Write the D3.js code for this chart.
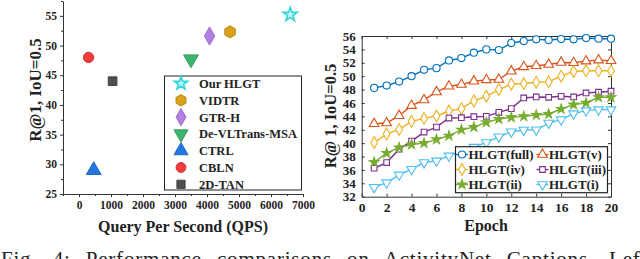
<!DOCTYPE html>
<html>
<head>
<meta charset="utf-8">
<script src="https://cdn.jsdelivr.net/npm/d3@7"></script>
<style>
  body { margin: 0; background: #fff; }
  svg { display: block; }
  svg text { font-family: "Liberation Serif", "Times New Roman", serif; font-weight: bold; }
</style>
</head>
<body>
<svg id="fig" width="640" height="259"></svg>
<script>
// left panel: methods vs QPS
var methods = ["Our HLGT", "VIDTR", "GTR-H", "De-VLTrans-MSA", "CTRL", "CBLN", "2D-TAN"];
var qps = [6600, 4720, 4080, 3500, 460, 300, 1050];
var recall = [55.2, 52.3, 51.6, 47.7, 29.0, 48.0, 44.0];
var methodColors = ["#2fd5d8", "#d9a11c", "#b47fe2", "#3cb46c", "#2477e0", "#f03c3c", "#4f4f4f"];
var methodShapes = [d3.symbolStar, "hex", d3.symbolDiamond, "down", d3.symbolTriangle, d3.symbolCircle, d3.symbolSquare];
var qpsTicks = [0, 1000, 2000, 3000, 4000, 5000, 6000, 7000];
var recallTicks = [25, 30, 35, 40, 45, 50, 55];

// right panel: ablation over epochs
var epochs = d3.range(1, 21);
var seriesNames = ["HLGT(full)", "HLGT(v)", "HLGT(iv)", "HLGT(iii)", "HLGT(ii)", "HLGT(i)"];
var full = [48.25, 48.6, 49.2, 50.0, 50.95, 51.2, 52.35, 52.7, 53.5, 54.0, 53.9, 54.95, 55.25, 55.5, 55.4, 55.55, 55.5, 55.7, 55.6, 55.6];
var v = [42.9, 43.0, 44.1, 45.6, 46.45, 47.65, 48.5, 48.75, 49.25, 49.45, 49.5, 50.75, 51.4, 51.55, 51.75, 52.05, 52.0, 52.25, 52.4, 52.3];
var iv = [40.1, 41.35, 42.05, 43.25, 43.7, 44.05, 44.8, 45.15, 46.3, 47.0, 48.0, 48.8, 48.9, 49.1, 49.15, 50.0, 50.7, 50.8, 50.8, 50.8];
var iii = [36.25, 37.1, 39.1, 40.3, 41.65, 42.4, 43.75, 43.8, 43.95, 44.0, 44.6, 45.15, 46.75, 46.9, 46.85, 47.0, 46.9, 47.5, 47.6, 47.75];
var ii = [37.15, 38.5, 39.35, 39.8, 40.0, 40.55, 41.1, 42.0, 42.4, 43.1, 43.6, 43.85, 44.0, 44.2, 44.35, 45.1, 45.75, 46.0, 46.85, 46.85];
var i1 = [33.4, 34.1, 35.25, 36.1, 37.1, 37.35, 38.1, 38.8, 39.4, 40.1, 40.95, 41.7, 41.95, 42.0, 43.0, 43.5, 44.4, 44.85, 45.0, 45.0];
var seriesValues = [full, v, iv, iii, ii, i1];
var seriesColors = ["#0072bd", "#d95319", "#edb120", "#7e2f8e", "#77ac30", "#4dbeee"];
var seriesShapes = [d3.symbolCircle, d3.symbolTriangle, d3.symbolDiamond, d3.symbolSquare, d3.symbolStar, "down"];
var epochTicks = d3.range(0, 21, 2);
var accTicks = d3.range(32, 57, 2);

var svg = d3.select("#fig");

function shapePath(shape, size) {
  if (shape === "down") {
    return d3.symbol(d3.symbolTriangle, size)();
  }
  if (shape === "hex") {
    var r = Math.sqrt(size / 2.6);
    var pts = d3.range(6).map(function(k) {
      var a = Math.PI / 6 + k * Math.PI / 3;
      return [r * Math.cos(a), r * Math.sin(a)];
    });
    return "M" + pts.join("L") + "Z";
  }
  return d3.symbol(shape, size)();
}
function shapeRot(shape) { return shape === "down" ? " rotate(180)" : ""; }
function plain(g) { g.attr("font-family", null).attr("font-size", null); }

// ---------- left scatter ----------
var x1 = d3.scaleLinear().domain([-500, 7000]).range([63, 303]);
var y1 = d3.scaleLinear().domain([25, 57.5]).range([194, 1]);
var leftSize = [60, 95, 95, 95, 95, 85, 75];

var gL = svg.append("g");
gL.append("g").attr("transform", "translate(0,194)")
  .call(d3.axisBottom(x1).tickValues(qpsTicks).tickFormat(d3.format("d")).tickSize(3).tickSizeOuter(0).tickPadding(4))
  .call(plain)
  .call(function(g) { g.selectAll("text").style("font-size", "11.5px").attr("fill", "#222"); });
gL.append("g").attr("transform", "translate(0,194)")
  .call(d3.axisBottom(x1).tickValues(d3.range(-500, 7000, 1000)).tickSize(2).tickFormat(""))
  .call(function(g) { g.select(".domain").remove(); });
gL.append("g").attr("transform", "translate(63,0)")
  .call(d3.axisLeft(y1).tickValues(recallTicks).tickSize(3).tickSizeOuter(0).tickPadding(3))
  .call(plain)
  .call(function(g) { g.selectAll("text").style("font-size", "11.5px").attr("fill", "#222"); });
gL.append("g").attr("transform", "translate(63,0)")
  .call(d3.axisLeft(y1).tickValues([27.5, 32.5, 37.5, 42.5, 47.5, 52.5, 57.5]).tickSize(2).tickFormat(""))
  .call(function(g) { g.select(".domain").remove(); });
gL.selectAll(".domain, .tick line").attr("stroke", "#333");

gL.selectAll("path.pt").data(methods).enter().append("path")
  .attr("class", "pt")
  .attr("d", function(d, k) { return shapePath(methodShapes[k], leftSize[k]); })
  .attr("transform", function(d, k) { return "translate(" + x1(qps[k]) + "," + y1(recall[k]) + ")" + shapeRot(methodShapes[k]); })
  .attr("fill", function(d, k) { return k === 0 ? "#c8f4f4" : methodColors[k]; })
  .attr("stroke", function(d, k) { return d3.color(methodColors[k]).darker(k === 0 ? 0 : 0.4); })
  .attr("stroke-width", function(d, k) { return k === 0 ? 1.6 : 1; });

// legend
gL.append("rect").attr("x", 164.5).attr("y", 76).attr("width", 137).attr("height", 114)
  .attr("fill", "#fff").attr("stroke", "#222").attr("stroke-width", 1);
var lgL = gL.selectAll("g.lg").data(methods).enter().append("g")
  .attr("transform", function(d, k) { return "translate(181," + (83.5 + k * 16.8) + ")"; });
lgL.append("path")
  .attr("d", function(d, k) { return shapePath(methodShapes[k], leftSize[k] * 0.9); })
  .attr("transform", function(d, k) { return shapeRot(methodShapes[k]).trim(); })
  .attr("fill", function(d, k) { return k === 0 ? "#c8f4f4" : methodColors[k]; })
  .attr("stroke", function(d, k) { return d3.color(methodColors[k]).darker(k === 0 ? 0 : 0.4); })
  .attr("stroke-width", function(d, k) { return k === 0 ? 1.6 : 1; });
lgL.append("text").attr("x", 18).attr("y", 4.5).style("font-size", "12.5px").attr("fill", "#222")
  .text(function(d) { return d; });

gL.append("text").attr("transform", "translate(41,90) rotate(-90)").attr("text-anchor", "middle")
  .style("font-size", "17px").attr("fill", "#222").text("R@1, IoU=0.5");
gL.append("text").attr("x", 183).attr("y", 232).attr("text-anchor", "middle")
  .style("font-size", "16px").attr("fill", "#222").text("Query Per Second (QPS)");

// ---------- right line chart ----------
var x2 = d3.scaleLinear().domain([0, 20]).range([361.7, 611]);
var y2 = d3.scaleLinear().domain([32, 56]).range([196.7, 36]);

var gR = svg.append("g");
gR.append("g").attr("transform", "translate(0,196.7)")
  .call(d3.axisBottom(x2).tickValues(epochTicks).tickSize(-3).tickSizeOuter(0).tickPadding(6))
  .call(plain)
  .call(function(g) { g.selectAll("text").style("font-size", "13.5px").attr("fill", "#222"); });
gR.append("g").attr("transform", "translate(0,36)")
  .call(d3.axisTop(x2).tickValues(epochTicks).tickSize(-3).tickSizeOuter(0).tickFormat(""));
gR.append("g").attr("transform", "translate(361.7,0)")
  .call(d3.axisLeft(y2).tickValues(accTicks).tickSize(-3).tickSizeOuter(0).tickPadding(6))
  .call(plain)
  .call(function(g) { g.selectAll("text").style("font-size", "13px").attr("fill", "#222"); });
gR.append("g").attr("transform", "translate(611,0)")
  .call(d3.axisRight(y2).tickValues(accTicks).tickSize(-3).tickSizeOuter(0).tickFormat(""));
gR.selectAll(".domain, .tick line").attr("stroke", "#333");

var mSize = [40, 40, 40, 32, 28, 40];
var line = d3.line().x(function(d, k) { return x2(epochs[k]); }).y(function(d) { return y2(d); });
seriesValues.forEach(function(vals, s) {
  gR.append("path").datum(vals).attr("d", line).attr("fill", "none")
    .attr("stroke", seriesColors[s]).attr("stroke-width", 1.4);
  gR.selectAll("path.m" + s).data(vals).enter().append("path")
    .attr("class", "m" + s)
    .attr("d", shapePath(seriesShapes[s], mSize[s]))
    .attr("transform", function(d, k) { return "translate(" + x2(epochs[k]) + "," + y2(d) + ")" + shapeRot(seriesShapes[s]); })
    .attr("fill", s === 4 ? seriesColors[s] : "#fff")
    .attr("stroke", seriesColors[s]).attr("stroke-width", 1.1);
});

// legend
gR.append("rect").attr("x", 455.5).attr("y", 146.7).attr("width", 152).attr("height", 46)
  .attr("fill", "#fff").attr("stroke", "#222").attr("stroke-width", 1.2);
var lgR = gR.selectAll("g.lg").data(seriesNames).enter().append("g")
  .attr("transform", function(d, k) {
    return "translate(" + (k % 2 === 0 ? 462 : 542.5) + "," + (154.5 + Math.floor(k / 2) * 15) + ")";
  });
lgR.append("line").attr("x1", -6).attr("x2", 6)
  .attr("stroke", function(d, k) { return seriesColors[k]; }).attr("stroke-width", 1.4);
lgR.append("path")
  .attr("d", function(d, k) { return shapePath(seriesShapes[k], mSize[k]); })
  .attr("transform", function(d, k) { return shapeRot(seriesShapes[k]).trim(); })
  .attr("fill", function(d, k) { return k === 4 ? seriesColors[k] : "#fff"; })
  .attr("stroke", function(d, k) { return seriesColors[k]; }).attr("stroke-width", 1.1);
lgR.append("text").attr("x", 6.5).attr("y", 4.5).style("font-size", "13px").attr("fill", "#222")
  .text(function(d) { return d; });

gR.append("text").attr("transform", "translate(336,116) rotate(-90)").attr("text-anchor", "middle")
  .style("font-size", "16.5px").attr("fill", "#222").text("R@ 1, IoU=0.5");
gR.append("text").attr("x", 486).attr("y", 231).attr("text-anchor", "middle")
  .style("font-size", "16px").attr("fill", "#222").text("Epoch");

// caption, cut off by the frame (justified line)
var cap = svg.append("text").attr("x", 1).attr("y", 266)
  .style("font-size", "21px").style("font-weight", "normal").style("letter-spacing", "0.8px").attr("fill", "#222")
  .text("Fig. 4: Performance comparisons on ActivityNet Captions. Left:");
var gap = (662 - cap.node().getComputedTextLength()) / 8;
cap.style("word-spacing", Math.max(0, gap) + "px");
</script>
</body>
</html>
